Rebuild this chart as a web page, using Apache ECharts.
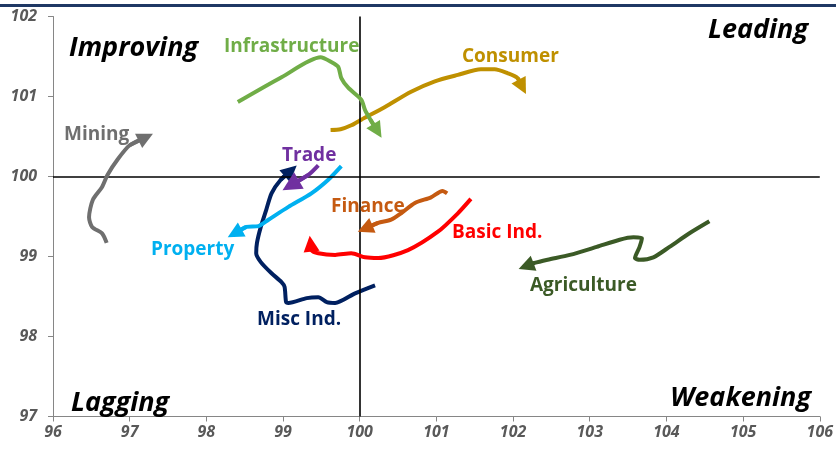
<!DOCTYPE html>
<html><head><meta charset="utf-8">
<script src="https://cdn.jsdelivr.net/npm/echarts@6/dist/echarts.min.js"></script>
<style>html,body{margin:0;padding:0;background:#fff}#c{width:836px;height:450px}</style>
</head><body><div id="c"></div>
<script>
const xTicks = [96, 97, 98, 99, 100, 101, 102, 103, 104, 105, 106];
const yTicks = [97, 98, 99, 100, 101, 102];

const infraX = [98.41, 98.98, 99.49, 99.63, 99.72, 99.76, 99.85, 100.02, 100.07, 100.14, 100.23];
const infraY = [100.93, 101.24, 101.49, 101.43, 101.37, 101.23, 101.11, 100.96, 100.83, 100.71, 100.57];
const consX = [99.62, 99.75, 99.89, 100.02, 100.33, 100.67, 100.98, 101.28, 101.58, 101.76, 101.93, 102.06, 102.12];
const consY = [100.58, 100.59, 100.64, 100.71, 100.87, 101.06, 101.19, 101.27, 101.34, 101.34, 101.29, 101.23, 101.12];
const minX = [96.70, 96.64, 96.51, 96.47, 96.52, 96.64, 96.71, 96.84, 97.00, 97.21];
const minY = [99.17, 99.29, 99.37, 99.49, 99.71, 99.87, 100.02, 100.21, 100.39, 100.49];
const tradeX = [99.46, 99.33, 99.10];
const tradeY = [100.14, 100.02, 99.89];
const propX = [99.76, 99.59, 99.37, 99.07, 98.81, 98.68, 98.52, 98.37];
const propY = [100.13, 99.96, 99.79, 99.62, 99.46, 99.38, 99.37, 99.29];
const miscX = [100.20, 99.94, 99.68, 99.57, 99.46, 99.31, 99.07, 99.04, 99.02, 98.98, 98.85, 98.71, 98.65, 98.66, 98.71, 98.78, 98.85, 98.97, 99.10];
const miscY = [98.64, 98.54, 98.42, 98.43, 98.49, 98.48, 98.42, 98.43, 98.62, 98.68, 98.79, 98.93, 99.04, 99.17, 99.37, 99.58, 99.79, 99.96, 100.07];
const finX = [101.14, 101.08, 100.93, 100.72, 100.54, 100.41, 100.24, 100.07];
const finY = [99.79, 99.82, 99.74, 99.67, 99.54, 99.46, 99.42, 99.35];
const basicX = [101.45, 101.28, 101.02, 100.63, 100.24, 100.07, 99.89, 99.68, 99.46, 99.37, 99.36];
const basicY = [99.72, 99.54, 99.31, 99.08, 98.98, 98.99, 99.04, 99.02, 99.04, 99.08, 99.16];
const agriX = [104.56, 104.30, 104.04, 103.83, 103.65, 103.59, 103.65, 103.68, 103.57, 103.39, 103.09, 102.74, 102.45, 102.28, 102.17];
const agriY = [99.44, 99.29, 99.12, 98.99, 98.96, 98.98, 99.12, 99.23, 99.24, 99.21, 99.12, 99.02, 98.96, 98.92, 98.88];

const sectors = [
  {name: 'Consumer', x: consX, y: consY, color: '#BF9000'},
  {name: 'Misc Ind.', x: miscX, y: miscY, color: '#002060'},
  {name: 'Property', x: propX, y: propY, color: '#00B0F0'},
  {name: 'Trade', x: tradeX, y: tradeY, color: '#7030A0', arrow: 19},
  {name: 'Infrastructure', x: infraX, y: infraY, color: '#70AD47'},
  {name: 'Mining', x: minX, y: minY, color: '#6F6F6F'},
  {name: 'Finance', x: finX, y: finY, color: '#C55A11'},
  {name: 'Basic Ind.', x: basicX, y: basicY, color: '#FF0000'},
  {name: 'Agriculture', x: agriX, y: agriY, color: '#3B5A26'}
];

const labelFont = 'bold 19px "Open Sans", Lato, sans-serif';
const labels = [
  {t: 'Infrastructure', x: 224, y: 47, c: '#70AD47'},
  {t: 'Consumer', x: 462, y: 57, c: '#BF9000'},
  {t: 'Mining', x: 64, y: 135, c: '#6F6F6F'},
  {t: 'Trade', x: 282, y: 156, c: '#7030A0'},
  {t: 'Finance', x: 331, y: 207, c: '#C55A11'},
  {t: 'Property', x: 151, y: 250, c: '#00B0F0'},
  {t: 'Basic Ind.', x: 452, y: 233, c: '#FF0000'},
  {t: 'Agriculture', x: 530, y: 286, c: '#3B5A26'},
  {t: 'Misc Ind.', x: 257, y: 320, c: '#002060'}
];
const quadFont = 'italic bold 27px "Open Sans", Lato, sans-serif';
const quads = [
  {t: 'Improving', x: 69, y: 48, a: 'left'},
  {t: 'Leading', x: 808, y: 30, a: 'right'},
  {t: 'Lagging', x: 71, y: 403, a: 'left'},
  {t: 'Weakening', x: 811, y: 398, a: 'right'}
];

const graphic = [
  {type: 'rect', shape: {x: 0, y: 4, width: 836, height: 3}, style: {fill: '#1F3864'}}
];
labels.forEach(l => graphic.push({type: 'text', x: l.x, y: l.y, z: 100,
  style: {text: l.t, font: labelFont, fill: l.c, verticalAlign: 'middle', align: 'left'}}));
quads.forEach(q => graphic.push({type: 'text', x: q.x, y: q.y, z: 100,
  style: {text: q.t, font: quadFont, fill: '#000', verticalAlign: 'middle', align: q.a}}));

const series = [{
  type: 'line', data: [], z: 1, silent: true,
  markLine: {silent: true, symbol: 'none', label: {show: false},
    lineStyle: {color: '#000', width: 1.6, type: 'solid'},
    data: [{xAxis: 100}, {yAxis: 100}]}
}];
sectors.forEach((s, k) => {
  const pts = s.x.map((v, i) => [v, s.y[i]]);
  series.push({type: 'line', name: s.name, data: pts, showSymbol: false, smooth: 0.25,
    z: 2 + k, lineStyle: {color: s.color, width: 4}, itemStyle: {color: s.color}, silent: true});
  const n = pts.length;
  series.push({type: 'lines', coordinateSystem: 'cartesian2d', z: 2 + k, silent: true,
    symbol: ['none', 'triangle'], symbolSize: s.arrow || 16,
    lineStyle: {color: s.color, width: 4, opacity: 1},
    data: [{coords: [pts[n - 2], pts[n - 1]]}]});
});

const axisLabelStyle = {color: '#595959', fontFamily: '"Open Sans", Lato, sans-serif',
  fontWeight: 'bold', fontStyle: 'italic', fontSize: 16};

const chart = echarts.init(document.getElementById('c'), null, {renderer: 'canvas'});
chart.setOption({
  animation: false,
  grid: {left: 53, right: 12, top: 16.5, bottom: 33.5, containLabel: false},
  xAxis: {type: 'value', min: xTicks[0], max: xTicks[xTicks.length - 1], interval: 1,
    axisLine: {onZero: false, lineStyle: {color: '#868686', width: 1}},
    axisTick: {show: true, length: 5, lineStyle: {color: '#868686'}},
    splitLine: {show: false},
    axisLabel: Object.assign({margin: 8}, axisLabelStyle)},
  yAxis: {type: 'value', min: yTicks[0], max: yTicks[yTicks.length - 1], interval: 1,
    axisLine: {show: true, onZero: false, lineStyle: {color: '#868686', width: 1}},
    axisTick: {show: true, length: 5, lineStyle: {color: '#868686'}},
    splitLine: {show: false},
    axisLabel: Object.assign({margin: 16}, axisLabelStyle)},
  graphic: graphic,
  series: series
});
</script></body></html>
